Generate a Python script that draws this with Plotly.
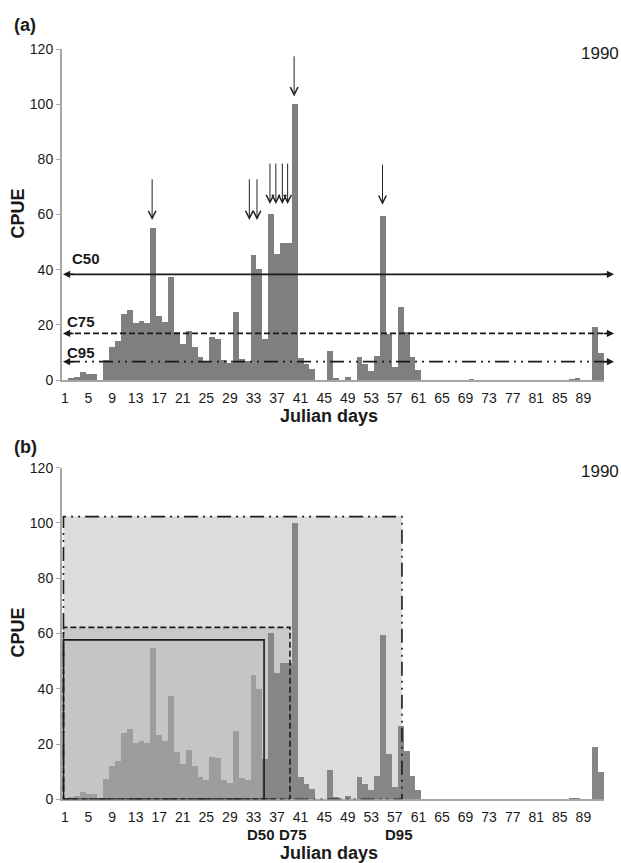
import plotly.graph_objects as go

# ---------------- data ----------------
days = list(range(1, 93))
cpue = [0, 0.8, 1.2, 2.9, 2.0, 2.0, 0, 7.3, 12.0, 14.0,
        24.0, 25.4, 20.6, 21.3, 20.6, 55.0, 23.2, 21.2, 37.4, 17.4,
        13.0, 17.8, 12.1, 8.3, 7.0, 15.5, 14.9, 7.1, 6.0, 24.8,
        7.7, 7.0, 45.2, 40.1, 14.8, 60.2, 45.7, 49.6, 49.6, 100.0,
        8.1, 5.8, 3.9, 0, 0, 10.6, 0.8, 0, 1.2, 0,
        8.2, 5.7, 3.4, 8.7, 59.5, 16.6, 4.6, 26.6, 17.5, 8.5,
        3.6, 0, 0, 0, 0, 0, 0, 0, 0, 0.2,
        0, 0, 0, 0, 0, 0, 0, 0, 0, 0,
        0, 0, 0, 0, 0, 0, 0.3, 0.5, 0, 0,
        19.1, 9.9]
tick_days = list(range(1, 90, 4))
y_ticks = [0, 20, 40, 60, 80, 100, 120]
year_label = "1990"

c_names = ["C50", "C75", "C95"]
c_values = [38.3, 16.9, 6.65]

d_names = ["D50", "D75", "D95"]
d_days = [34.8, 39.2, 58.2]
d_heights = [57.7, 62.2, 102.3]

arrow_x = [15.8, 32.3, 33.6, 35.8, 36.8, 37.9, 38.8, 39.9, 54.9]
arrow_tail = [73.3, 73.3, 73.3, 79.0, 79.0, 79.0, 79.0, 117.9, 78.6]
arrow_tip = [58.0, 58.0, 58.0, 63.8, 63.8, 63.8, 63.8, 102.8, 63.5]

# ---------------- styles ----------------
FONT = "Liberation Sans, Arial, sans-serif"
AXIS_GRAY = "#a6a6a6"
INK = "#1a1a1a"
W, H = 621, 863
ML, MR = 62, 17
PW = W - ML - MR


def px_x(p):
    return (p - ML) / PW


def px_y(p):
    return 1 - p / H


dom_a = [px_y(380), px_y(49)]
dom_b = [px_y(799.3), px_y(467.7)]

fig = go.Figure()

fig.add_trace(go.Bar(x=days, y=cpue, width=1, marker=dict(color="#7f7f7f", line=dict(width=0)),
                     xaxis="x", yaxis="y", showlegend=False))

colors_b = ["#9d9d9d" if d < d_days[0] else "#868686" for d in days]
fig.add_trace(go.Bar(x=days, y=cpue, width=1, marker=dict(color=colors_b, line=dict(width=0)),
                     xaxis="x2", yaxis="y2", showlegend=False))

xcommon = dict(range=[0.5, 92.5], tickvals=tick_days, showline=True, linecolor=AXIS_GRAY,
               linewidth=2, ticks="", showgrid=False, zeroline=False, automargin=False,
               ticklabelstandoff=4,
               tickfont=dict(family=FONT, size=14, color=INK), fixedrange=True)
ycommon = dict(range=[0, 120], tickvals=y_ticks, showline=True, linecolor=AXIS_GRAY,
               linewidth=2, ticks="outside", ticklen=4, tickcolor=AXIS_GRAY, showgrid=False,
               zeroline=False, automargin=False,
               tickfont=dict(family=FONT, size=14, color=INK), fixedrange=True)

fig.update_layout(
    template="none",
    width=W, height=H, margin=dict(l=ML, r=MR, t=0, b=0, pad=0),
    paper_bgcolor="white", plot_bgcolor="white", bargap=0,
    xaxis=dict(domain=[0, 1], anchor="y", **xcommon),
    yaxis=dict(domain=dom_a, anchor="x", **ycommon),
    xaxis2=dict(domain=[0, 1], anchor="y2", **xcommon),
    yaxis2=dict(domain=dom_b, anchor="x2", **ycommon),
)

shapes = []
annotations = []


def label(x, y, text, size, xref="paper", yref="paper", angle=0):
    return dict(xref=xref, yref=yref, x=x, y=y, text=text, showarrow=False,
                xanchor="center", yanchor="middle", textangle=angle,
                font=dict(family=FONT, size=size, color=INK))


# ---- panel (a): threshold double arrows ----
c_dash = ["solid", "6px,3px", "14px,5px,2px,5px,2px,5px"]
for name, val, dash in zip(c_names, c_values, c_dash):
    shapes.append(dict(type="line", xref="x domain", yref="y", x0=px_x(66), x1=px_x(610),
                       y0=val, y1=val, line=dict(color=INK, width=1.6, dash=dash), layer="above"))
    annotations.append(dict(xref="paper", yref="y", x=px_x(614), y=val, ax=-12, ay=0,
                            showarrow=True, arrowhead=2, arrowsize=0.95, arrowwidth=1.5,
                            arrowcolor=INK, text=""))
    annotations.append(dict(xref="paper", yref="y", x=px_x(63), y=val, ax=12, ay=0,
                            showarrow=True, arrowhead=2, arrowsize=0.95, arrowwidth=1.5,
                            arrowcolor=INK, text=""))

c_label_px = [(86, 258.3), (81, 321.7), (81, 352.3)]
for name, (lx, ly) in zip(c_names, c_label_px):
    annotations.append(label(px_x(lx), px_y(ly), "<b>%s</b>" % name, 15))

# ---- panel (a): peak arrows ----
for ax_, tail, tip in zip(arrow_x, arrow_tail, arrow_tip):
    annotations.append(dict(xref="x", yref="y", axref="x", ayref="y", x=ax_, y=tip, ax=ax_, ay=tail,
                            showarrow=True, arrowhead=5, arrowsize=1.5, arrowwidth=1,
                            arrowcolor="#222222", text=""))

# ---- panel (b): duration boxes ----
d_fill = ["#c5c5c5", "#c9c9c9", "#dcdcdc"]
d_dash = ["solid", "6px,3px", "14px,5px,2px,5px,2px,5px"]
for i in [2, 1, 0]:
    shapes.append(dict(type="rect", xref="x2", yref="y2", x0=0.75, x1=d_days[i], y0=0, y1=d_heights[i],
                       fillcolor=d_fill[i], line=dict(width=0), layer="below"))
for i in [2, 1, 0]:
    shapes.append(dict(type="rect", xref="x2", yref="y2", x0=0.75, x1=d_days[i], y0=0, y1=d_heights[i],
                       fillcolor="rgba(0,0,0,0)", line=dict(color=INK, width=1.6, dash=d_dash[i]),
                       layer="above"))

d_label_x = [34.2, 39.7, 57.7]
for name, lx in zip(d_names, d_label_x):
    annotations.append(label(lx, px_y(834), "<b>%s</b>" % name, 15, xref="x2"))

# ---- text ----
for lab, py in [("(a)", 25), ("(b)", 447)]:
    annotations.append(label(px_x(25), px_y(py), "<b>%s</b>" % lab, 18))
for py in [53, 471.7]:
    annotations.append(label(px_x(600), px_y(py), year_label, 17))
for py in [214, 633]:
    annotations.append(label(px_x(17.5), px_y(py), "<b>CPUE</b>", 18, angle=-90))
for py in [416, 853]:
    annotations.append(label(px_x(329), px_y(py), "<b>Julian days</b>", 18))

fig.update_layout(shapes=shapes, annotations=annotations)
fig.write_html("out.html")
